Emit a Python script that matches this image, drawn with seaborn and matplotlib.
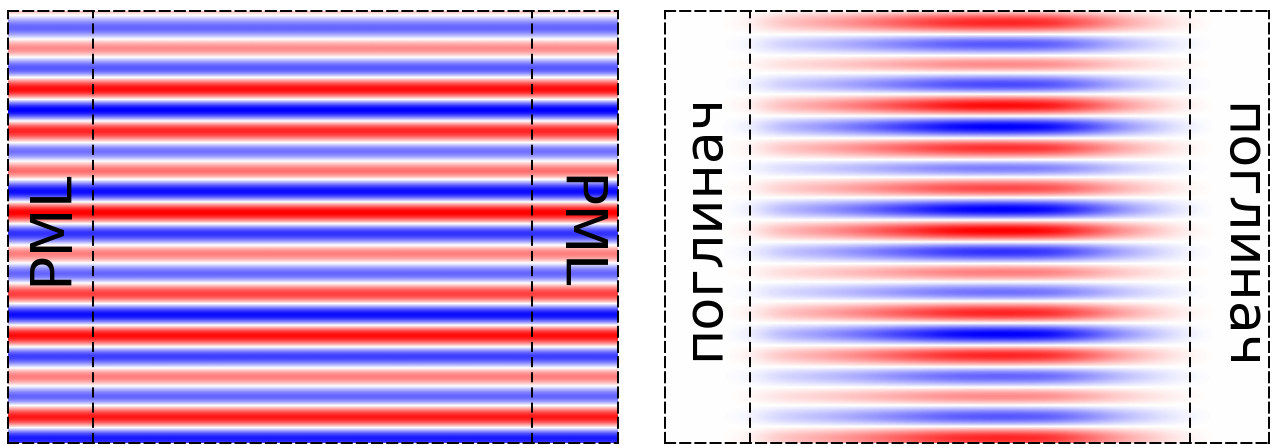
import numpy as np
import matplotlib
matplotlib.use("Agg")
import matplotlib.pyplot as plt
import seaborn as sns

# Signed peak value of each successive half-period stripe (top to bottom)
pml_stripes = [0.4, -0.6, 0.45, -0.65, 0.95, -1.0, 0.85, -0.55, 0.55, -0.95,
               1.0, -0.8, 0.5, -0.6, 0.75, -0.95, 0.95, -0.75, 0.5, -0.6,
               0.9, -0.9, 0.6]
absorber_stripes = [-0.5, 0.85, -0.65, 0.45, -0.7, 0.95, -1.0, 0.8, -0.5, 0.7,
                    -1.0, 1.0, -0.8, 0.5, -0.55, 0.85, -1.0, 0.85, -0.6, 0.45,
                    -0.65, 0.85, -0.6]
# Horizontal envelope of the field in the absorber panel (left to right)
absorber_envelope = [0.0, 0.0, 0.07, 0.26, 0.38, 0.51, 0.66, 0.81, 0.94, 1.0,
                     1.0, 0.93, 0.72, 0.46, 0.25, 0.08, 0.0, 0.0]
labels_left = ["PML", "PML"]
labels_right = ["поглинач", "поглинач"]

sns.set_theme(style="white")
plt.rcParams['font.family'] = ['DejaVu Sans']
cmap = sns.blend_palette(["#0000ff", "#ffffff", "#ff0000"], as_cmap=True)

W, H = 1272, 446
fig = plt.figure(figsize=(W / 100, H / 100), dpi=100)
fig.patch.set_facecolor("white")

def add_ax(x0, x1, y0, y1):
    ax = fig.add_axes([x0 / W, 1 - y1 / H, (x1 - x0) / W, (y1 - y0) / H])
    ax.set_xlim(x0, x1)
    ax.set_ylim(y1, y0)
    ax.set_xticks([])
    ax.set_yticks([])
    ax.set_facecolor("white")
    for s in ax.spines.values():
        s.set_visible(True)
        s.set_color("black")
        s.set_linewidth(1.4)
        s.set_linestyle((0, (5.2, 2.6)))
        s.set_zorder(5)
    return ax

dash = dict(color="black", lw=1.4, linestyle=(0, (5.2, 2.6)), zorder=5)

# ---- left panel: PML ----
axL = add_ax(8, 618, 11, 443)
fieldL = np.tile(np.array(pml_stripes)[:, None], (1, 2))
stepL = 20.5
y_first = 7.5
axL.imshow(fieldL, cmap=cmap, vmin=-1, vmax=1, aspect="auto",
           interpolation="catrom", interpolation_stage="data", origin="upper",
           extent=(8, 618, y_first + stepL * (len(pml_stripes) - 0.5), y_first - stepL / 2))
axL.axvline(93, **dash)
axL.axvline(532, **dash)
axL.text(52, 227, labels_left[0], rotation=90, ha="center", va="center",
         fontsize=41, color="black", rotation_mode="anchor", zorder=6)
axL.text(575, 233, labels_left[1], rotation=270, ha="center", va="center",
         fontsize=41, color="black", rotation_mode="anchor", zorder=6)

# ---- right panel: absorber ----
axR = add_ax(665, 1269, 11, 443)
fieldR = np.outer(np.array(absorber_stripes), np.array(absorber_envelope))
stepR = 20.75
yR_first = 2.25
axR.imshow(fieldR, cmap=cmap, vmin=-1, vmax=1, aspect="auto",
           interpolation="catrom", interpolation_stage="data", origin="upper",
           extent=(665, 1269, yR_first + stepR * (len(absorber_stripes) - 0.5), yR_first - stepR / 2))
axR.axvline(750, **dash)
axR.axvline(1190, **dash)
axR.text(703, 227, labels_right[0], rotation=90, ha="center", va="center",
         fontsize=39, color="black", rotation_mode="anchor", zorder=6)
axR.text(1240, 236, labels_right[1], rotation=270, ha="center", va="center",
         fontsize=39, color="black", rotation_mode="anchor", zorder=6)

fig.savefig("out.png", dpi=100, facecolor="white")
